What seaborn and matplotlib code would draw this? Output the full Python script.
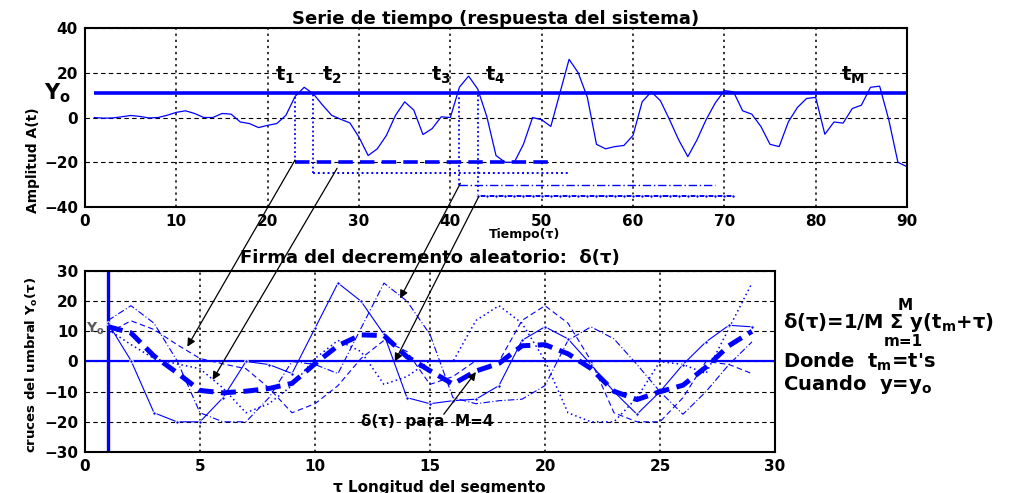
import numpy as np
import pandas as pd
import matplotlib
matplotlib.use("Agg")
import matplotlib.pyplot as plt
import seaborn as sns
from matplotlib.patches import ConnectionPatch

# ---- data -------------------------------------------------------------
# system response A(t), sampled at t = 1..90
time = np.arange(1, 91)
amplitude = [0, -0.3, -0.2, 0.3, 0.9, 0.5, -0.2, 0, 1, 2.3,
             3, 1.8, 0, 0, 1.8, 1.5, -2, -2.7, -4.5, -3.5,
             -2.7, 1, 9.4, 13.5, 10.6, 5.6, 1, -0.8, -2.4, -8.8,
             -17, -14, -8, 1, 7, 3.3, -7.6, -5, 0.3, 0,
             13.6, 18.5, 12.7, 0.3, -17, -20, -20, -12, 0, -1,
             -4, 11, 26, 20, 9, -12, -14, -13, -12.5, -8,
             7, 11.5, 7.5, -1, -10, -17.5, -10, -1, 6.5, 12,
             11.5, 3, 1.5, -4, -12, -13, -2, 4.5, 8.5, 9,
             -7.5, -2, -2.5, 4, 5.5, 13.5, 14, -1, -20, -22]

threshold = 11                      # Y_o
crossings = [23, 25, 41, 43]        # t_1 .. t_4
seg_len = 29                        # tau = 1..29
tau = np.arange(1, seg_len + 1)

top_xticks = list(range(0, 91, 10))
top_yticks = [-40, -20, 0, 20, 40]
bot_xticks = [0, 5, 10, 15, 20, 25, 30]
bot_yticks = list(range(-30, 31, 10))

# ---- segments and their average (random decrement signature) ----------
amp = np.asarray(amplitude, dtype=float)
segments = [amp[tm - 1: tm - 1 + seg_len] for tm in crossings]
signature = np.mean(segments, axis=0)

seg_df = pd.concat(
    [pd.DataFrame({"tau": tau, "y": s, "m": i}) for i, s in enumerate(segments)],
    ignore_index=True)
sig_df = pd.DataFrame({"tau": tau, "y": signature})
series_df = pd.DataFrame({"t": time, "A": amp})

# ---- styling ------------------------------------------------------------
BLUE = "#0000ff"
sns.set_theme(style="white")
plt.rcParams["font.family"] = ["DejaVu Sans"]
plt.rcParams["font.weight"] = "bold"
plt.rcParams["mathtext.fontset"] = "dejavusans"
plt.rcParams["mathtext.default"] = "bf"
for key in ("text.color", "axes.labelcolor", "xtick.color", "ytick.color",
            "axes.titlecolor"):
    plt.rcParams[key] = "black"

seg_levels = [-20, -25, -30, -35]
seg_styles = [dict(ls=(0, (4, 2)), lw=2.6),
              dict(ls=(0, (1, 1.5)), lw=1.4),
              dict(ls=(0, (6, 2, 1, 2)), lw=1.0),
              dict(ls="-", lw=1.4, marker=".", ms=5)]
thin_styles = [dict(ls=(0, (5, 3)), lw=0.8),
               dict(ls=(0, (1, 2)), lw=1.1),
               dict(ls=(0, (6, 2, 1, 2)), lw=0.8),
               dict(ls="-", lw=0.8, marker=".", ms=5)]

fig = plt.figure(figsize=(10.13, 4.93), dpi=100)
ax1 = fig.add_axes([0.0839, 0.5801, 0.8115, 0.3631])
ax2 = fig.add_axes([0.0839, 0.0832, 0.6811, 0.3671])


def style_axes(ax, xt, yt):
    ax.set_xticks(xt)
    ax.set_yticks(yt)
    ax.set_xlim(xt[0], xt[-1])
    ax.set_ylim(yt[0], yt[-1])
    ax.xaxis.grid(True, ls=(0, (1.5, 2.5)), color="black", lw=1.1)
    ax.yaxis.grid(True, ls=(0, (4, 3)), color="black", lw=0.8)
    ax.set_axisbelow(True)
    ax.tick_params(length=0, labelsize=11, pad=5, labelcolor="black")
    for sp in ax.spines.values():
        sp.set_color("black")
        sp.set_linewidth(1.5)


# ---- top panel: time series --------------------------------------------
style_axes(ax1, top_xticks, top_yticks)
sns.lineplot(data=series_df, x="t", y="A", ax=ax1, color=BLUE, lw=0.9)
ax1.hlines(threshold, time[0], time[-1], color=BLUE, lw=2.6)
for tm, lvl, st in zip(crossings, seg_levels, seg_styles):
    ax1.vlines(tm, lvl, threshold, color=BLUE, lw=1.3, ls=(0, (1, 1.5)))
    xs = np.arange(tm, tm + seg_len)
    sns.lineplot(x=xs, y=np.full(xs.shape, lvl), ax=ax1, color=BLUE, **st)

label_pos = [(20.8, r"$t_1$"), (25.9, r"$t_2$"), (37.9, r"$t_3$"),
             (43.8, r"$t_4$"), (82.8, r"$t_M$")]
for x, s in label_pos:
    ax1.text(x, 19, s, fontsize=14, ha="left", va="center", color="black")
ax1.text(-0.05, threshold, r"$Y_o$", transform=ax1.get_yaxis_transform(),
         fontsize=15, ha="left", va="center", color="black")

ax1.set_title("Serie de tiempo (respuesta del sistema)", fontsize=13,
              fontweight="bold", pad=3)
ax1.set_xlabel("Tiempo(τ)", fontsize=9, fontweight="bold")
ax1.xaxis.set_label_coords(0.535, -0.118)
ax1.set_ylabel("Amplitud A(t)", fontsize=10, fontweight="bold")
ax1.yaxis.set_label_coords(-0.055, 0.26)

# ---- bottom panel: random decrement signature --------------------------
style_axes(ax2, bot_xticks, bot_yticks)
ax2.axhline(0, color=BLUE, lw=1.6)
ax2.axvline(tau[0], color=BLUE, lw=2.4)
for m, st in enumerate(thin_styles):
    sns.lineplot(data=seg_df[seg_df["m"] == m], x="tau", y="y", ax=ax2,
                 color=BLUE, **st)
sns.lineplot(data=sig_df, x="tau", y="y", ax=ax2, color=BLUE,
             lw=3.6, ls=(0, (3, 1.5)))

ax2.text(0.05, 11, r"$Y_o$", fontsize=10, color="0.35", ha="left", va="center")
ax2.text(12.0, -20, "δ(τ)  para  M=4", fontsize=11, ha="left", va="center",
         color="black")
ax2.annotate("", xy=(17.0, -3.5), xytext=(15.6, -17.5),
             arrowprops=dict(arrowstyle="-|>", color="black", lw=0.9,
                             mutation_scale=12, shrinkA=0, shrinkB=0))

ax2.set_title("Firma del decremento aleatorio:  δ(τ)", fontsize=13,
              fontweight="bold", pad=6)
ax2.set_xlabel("τ Longitud del segmento", fontsize=11, fontweight="bold")
ax2.xaxis.set_label_coords(0.514, -0.155)
ax2.set_ylabel(r"cruces del umbral Y$_o$(τ)", fontsize=9.5, fontweight="bold")
ax2.yaxis.set_label_coords(-0.065, 0.48)

# arrows linking each threshold crossing to its segment
links = [((23.0, -19.0), (4.45, 4.9)),
         ((27.6, -22.7), (5.55, -6.1)),
         ((41.1, -29.4), (13.7, 20.9)),
         ((43.1, -35.4), (13.47, 0.0))]
for (xa, ya), (xb, yb) in links:
    con = ConnectionPatch(xyA=(xa, ya), coordsA=ax1.transData,
                          xyB=(xb, yb), coordsB=ax2.transData,
                          arrowstyle="-|>", color="black", lw=0.9,
                          mutation_scale=12, shrinkA=0, shrinkB=0, zorder=10)
    fig.add_artist(con)

# ---- formula block -----------------------------------------------------
fs = 14
fig.text(905 / 1013, 1 - 305 / 493, "M", fontsize=fs - 3, ha="center",
         va="center")
fig.text(783 / 1013, 1 - 323 / 493, r"δ(τ)=1/M Σ y(t$_m$+τ)", fontsize=fs,
         ha="left", va="center")
fig.text(903 / 1013, 1 - 342 / 493, "m=1", fontsize=fs - 3, ha="center",
         va="center")
fig.text(783 / 1013, 1 - 362 / 493, r"Donde  t$_m$=t's", fontsize=fs,
         ha="left", va="center")
fig.text(783 / 1013, 1 - 385 / 493, r"Cuando  y=y$_o$", fontsize=fs,
         ha="left", va="center")

fig.savefig("out.png", dpi=100, facecolor="white")
